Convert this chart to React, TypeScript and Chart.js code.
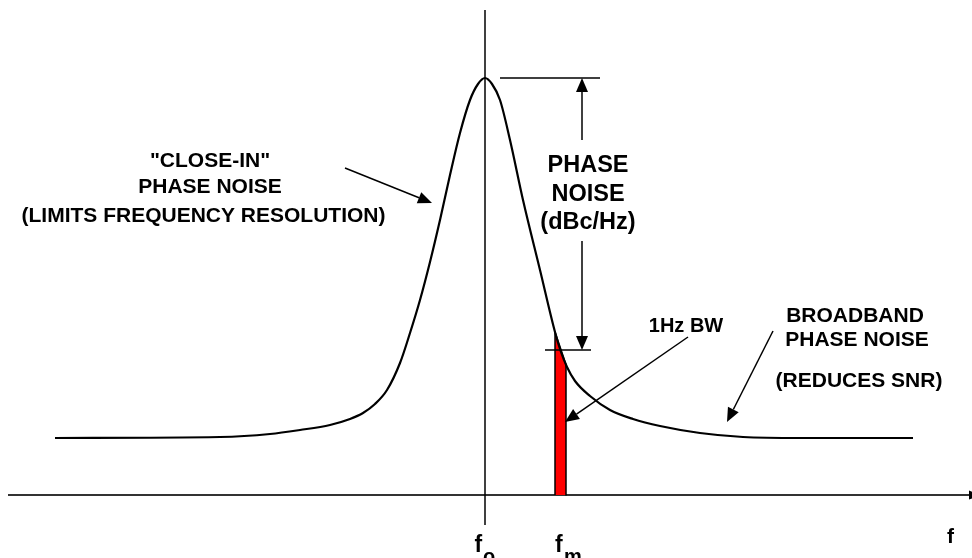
import React, { useEffect, useRef } from "react";
import { Chart, registerables } from "chart.js";

Chart.register(...registerables);

// Frequency offset from carrier (arbitrary units) and noise level (arbitrary units above axis)
const offsetFreq = [-43, -26.5, -21.5, -18.5, -15.5, -13.5, -12.2, -11, -9.8, -8.5, -7.5, -6.5, -5.5, -4.5, -3.5, -2.5, -1.5, -0.7, 0, 0.7, 1.5, 2.5, 3.8, 5.5, 7, 7.6, 8.2, 9, 10.5, 12.5, 14.8, 17.5, 21.5, 25.8, 31.5, 42.8];
const noiseLevel = [11.4, 11.6, 12.2, 13, 14, 15.2, 16.4, 18.2, 21, 26.4, 32.4, 39, 46.6, 55, 64, 72.4, 79, 82.2, 83.4, 82.2, 79, 71, 59, 45, 32.6, 28.6, 25.6, 22.8, 19.8, 17, 15.2, 13.8, 12.4, 11.6, 11.4, 11.4];

// 1 Hz bandwidth slice at fm
const bandX = [7, 7, 8.1, 8.1];
const bandY = [0, 32.6, 26.1, 0];

// Carrier marker line at fo
const carrierX = [0, 0];
const carrierY = [-6, 97];

const closeInLines = ['"CLOSE-IN"', "PHASE NOISE", "(LIMITS FREQUENCY RESOLUTION)"];
const phaseNoiseLines = ["PHASE", "NOISE", "(dBc/Hz)"];
const broadbandLines = ["BROADBAND", "PHASE NOISE", "(REDUCES SNR)"];
const bwLabel = "1Hz BW";

const FONT = '"Liberation Sans", Arial, Helvetica, sans-serif';

function arrow(ctx: CanvasRenderingContext2D, x1: number, y1: number, x2: number, y2: number, len = 14, half = 6) {
  const a = Math.atan2(y2 - y1, x2 - x1);
  const bx = x2 - len * Math.cos(a);
  const by = y2 - len * Math.sin(a);
  ctx.beginPath();
  ctx.moveTo(x1, y1);
  ctx.lineTo(bx, by);
  ctx.stroke();
  ctx.beginPath();
  ctx.moveTo(x2, y2);
  ctx.lineTo(bx + half * Math.sin(a), by - half * Math.cos(a));
  ctx.lineTo(bx - half * Math.sin(a), by + half * Math.cos(a));
  ctx.closePath();
  ctx.fill();
}

const axisPlugin = {
  id: "axisArrow",
  beforeDatasetsDraw(chart: any) {
    const { ctx, scales } = chart;
    const x = scales.x, y = scales.y;
    const y0 = y.getPixelForValue(0);
    ctx.save();
    ctx.strokeStyle = "#333333";
    ctx.lineWidth = 2;
    ctx.beginPath();
    ctx.moveTo(x.getPixelForValue(-47.7), y0);
    ctx.lineTo(x.getPixelForValue(48.4), y0);
    ctx.stroke();
    ctx.fillStyle = "#000";
    ctx.beginPath();
    const xe = x.getPixelForValue(48.4);
    ctx.moveTo(xe, y0 - 4.5);
    ctx.lineTo(xe + 12, y0);
    ctx.lineTo(xe, y0 + 4.5);
    ctx.closePath();
    ctx.fill();
    ctx.restore();
  },
};

const annotPlugin = {
  id: "annotations",
  afterDatasetsDraw(chart: any) {
    const { ctx, scales } = chart;
    const X = (u: number) => scales.x.getPixelForValue(u);
    const Y = (v: number) => scales.y.getPixelForValue(v);
    ctx.save();
    ctx.strokeStyle = "#000";
    ctx.fillStyle = "#000";
    ctx.lineWidth = 1.5;

    // dimension lines for phase noise
    ctx.beginPath();
    ctx.moveTo(X(1.5), Y(83.4));
    ctx.lineTo(X(11.5), Y(83.4));
    ctx.moveTo(X(6), Y(29));
    ctx.lineTo(X(10.6), Y(29));
    ctx.stroke();
    arrow(ctx, X(9.7), Y(71), X(9.7), Y(83.4));
    arrow(ctx, X(9.7), Y(50.8), X(9.7), Y(29));

    // pointer arrows
    arrow(ctx, X(-14), Y(65.4), X(-5.3), Y(58.4));
    arrow(ctx, X(20.3), Y(31.6), X(8), Y(14.6));
    arrow(ctx, X(28.8), Y(32.8), X(24.2), Y(14.6));

    // texts
    ctx.textAlign = "center";
    ctx.textBaseline = "alphabetic";
    ctx.font = `bold 21px ${FONT}`;
    const ciY = [65.6, 60.4, 54.6];
    const ciX = [-27.5, -27.5, -28.15];
    closeInLines.forEach((t, i) => ctx.fillText(t, X(ciX[i]), Y(ciY[i])));

    const bbY = [34.6, 29.8, 21.6];
    const bbX = [37, 37.2, 37.4];
    broadbandLines.forEach((t, i) => ctx.fillText(t, X(bbX[i]), Y(bbY[i])));

    ctx.font = `bold 20px ${FONT}`;
    ctx.fillText(bwLabel, X(20.1), Y(32.6));

    ctx.font = `bold 23.5px ${FONT}`;
    const pnY = [64.6, 58.8, 53.2];
    phaseNoiseLines.forEach((t, i) => ctx.fillText(t, X(10.3), Y(pnY[i])));

    // frequency labels
    ctx.textAlign = "left";
    ctx.font = `bold 23px ${FONT}`;
    ctx.fillText("f", X(-1.05), Y(-11.4));
    ctx.fillText("f", X(7.0), Y(-11.4));
    ctx.font = `bold 20px ${FONT}`;
    ctx.fillText("o", X(-0.2), Y(-13.6));
    ctx.fillText("m", X(7.9), Y(-13.6));
    ctx.font = `bold 21px ${FONT}`;
    ctx.fillText("f", X(46.2), Y(-9.6));
    ctx.restore();
  },
};

export default function App() {
  const ref = useRef<HTMLCanvasElement | null>(null);

  useEffect(() => {
    if (!ref.current) return;
    const curve = offsetFreq.map((f, i) => ({ x: f, y: noiseLevel[i] }));
    const band = bandX.map((f, i) => ({ x: f, y: bandY[i] }));
    const carrier = carrierX.map((f, i) => ({ x: f, y: carrierY[i] }));
    const chart = new Chart(ref.current, {
      type: "line",
      data: {
        datasets: [
          {
            data: curve,
            borderColor: "#000",
            borderWidth: 2.2,
            pointRadius: 0,
            cubicInterpolationMode: "monotone",
            fill: false,
            order: 1,
          },
          {
            data: band,
            borderColor: "#000",
            borderWidth: 1.5,
            backgroundColor: "#ff0000",
            pointRadius: 0,
            tension: 0,
            fill: true,
            order: 2,
          },
          {
            data: carrier,
            borderColor: "#000",
            borderWidth: 1.5,
            pointRadius: 0,
            fill: false,
            order: 0,
          },
        ],
      },
      options: {
        animation: false,
        responsive: false,
        maintainAspectRatio: false,
        layout: { padding: 0 },
        plugins: { legend: { display: false }, tooltip: { enabled: false } },
        scales: {
          x: { type: "linear", min: -48.5, max: 48.7, display: false },
          y: { type: "linear", min: -12.6, max: 99, display: false },
        },
        elements: { line: { borderCapStyle: "butt", borderJoinStyle: "round" } },
      },
      plugins: [axisPlugin, annotPlugin],
    } as any);
    return () => chart.destroy();
  }, []);

  return (
    <div style={{ position: "fixed", left: 0, top: 0, width: 972, height: 558, background: "#fff" }}>
      <canvas ref={ref} width={972} height={558} style={{ width: 972, height: 558, display: "block" }} />
    </div>
  );
}
